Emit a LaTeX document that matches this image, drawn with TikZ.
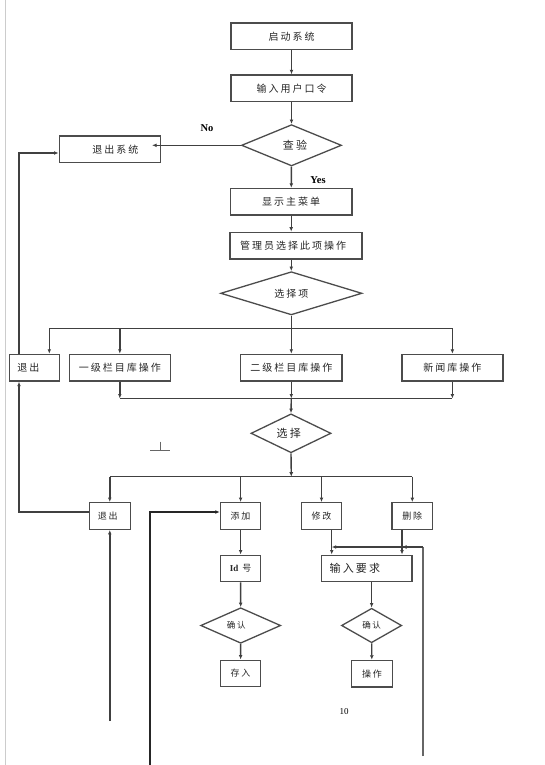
\documentclass[tikz,border=0pt]{standalone}
\usepackage{fontspec}
\setmainfont{Liberation Serif}
\newfontfamily\cjk{Noto Sans CJK SC}[LetterSpace=20]
\usetikzlibrary{shapes.geometric,arrows.meta,calc}
\tikzset{
  ln/.style={draw=black!75, line width=1.4pt},
  arr/.style={ln, -{Latex[length=4.5pt,width=3.8pt]}},
  box/.style={draw=black!70, line width=1.4pt, fill=white, inner sep=0pt, minimum height=26.5pt, font=\cjk\fontsize{10}{12}\selectfont, text=black!85},
  dia/.style={diamond, draw=black!70, line width=1.3pt, fill=white, inner sep=0pt, minimum height=34.5pt, font=\cjk\fontsize{10}{12}\selectfont, text=black!85},
  sm/.style={font=\cjk\fontsize{9}{11}\selectfont},
  lab/.style={font=\bfseries\fontsize{10.5}{12}\selectfont},
}
\begin{document}
\begin{tikzpicture}[x=1pt,y=-1pt]
\useasboundingbox (0,0) rectangle (544,765);
\fill[white] (0,0) rectangle (544,765);
\draw[black!20, line width=1pt] (5.5,0) -- (5.5,765);

% nodes
\node[box, minimum width=121pt] (qd) at (291.5,36.3) {启动系统};
\node[box, minimum width=121pt] (sr) at (291.5,88.3) {输入用户口令};
\node[dia, minimum width=100pt, font=\cjk\fontsize{11}{13}\selectfont] (cy) at (291.5,145.3) {\hspace*{7pt}查验};
\node[box, minimum width=101pt] (tx) at (109.8,149.3) {\hspace*{11pt}退出系统};
\node[box, minimum width=121.7pt] (xs) at (291.2,201.8) {显示主菜单};
\node[box, minimum width=132pt] (gl) at (296,245.6) {管理员选择此项操作\hspace*{6pt}};
\node[dia, minimum width=141.3pt] (xzx) at (291.3,293.3) {选择项};
\node[box, minimum width=50pt] (t1) at (34.3,367.7) {退出\hspace*{12pt}};
\node[box, minimum width=101pt] (yj) at (119.8,367.7) {一级栏目库操作};
\node[box, minimum width=101.4pt] (ej) at (291.3,367.7) {二级栏目库操作};
\node[box, minimum width=100.8pt] (xw) at (452.4,367.7) {新闻库操作};
\node[dia, minimum width=80pt, font=\cjk\fontsize{11}{13}\selectfont] (xz) at (291,433.3) {选择\hspace*{4.6pt}};
\node[box, sm, minimum width=41pt] (t2) at (109.8,516) {退出\hspace*{4pt}};
\node[box, sm, minimum width=40.3pt] (tj) at (240.6,516) {添加};
\node[box, sm, minimum width=40pt] (xg) at (321.5,516) {修改};
\node[box, sm, minimum width=40.6pt] (sc) at (412.3,516) {删除};
\node[box, sm, minimum width=40.3pt] (id) at (240.6,568.5) {{\rmfamily\bfseries Id} 号};
\node[dia, minimum width=80pt, font=\cjk\fontsize{8.5}{10}\selectfont] (q1) at (240.7,625.5) {确认\hspace*{9pt}};
\node[box, sm, minimum width=40.3pt] (cr) at (240.6,673.5) {存入};
\node[box, minimum width=90.3pt, font=\cjk\fontsize{11}{13}\selectfont] (yq) at (366.9,568.5) {输入要求\hspace*{24pt}};
\node[dia, minimum width=60.2pt, font=\cjk\fontsize{8.5}{10}\selectfont] (q2) at (371.6,625.5) {确认};
\node[box, sm, minimum width=40.8pt] (cz) at (371.9,673.7) {操作};

\node[lab] (no) at (207,128) {No};
\node[lab] (yes) at (318,180) {Yes};
\node[font=\fontsize{9}{11}\selectfont] (pg) at (344,711.7) {10};

% connectors top
\draw[arr] (qd) -- (sr);
\draw[arr] (sr) -- (cy);
\draw[arr] (cy.west) -- ($(tx.east |- cy.west)+(-9,0)$);
\draw[arr] (cy) -- (xs);
\draw[arr] (xs.south) -- (xs.south |- gl.north);
\draw[arr] (xzx.north |- gl.south) -- (xzx.north);

% first bus
\coordinate (b1) at (291.3,328.3);
\coordinate (bL) at (49.3,328.3);
\coordinate (bR) at (452.4,328.3);
\draw[ln] (xzx.south) -- (b1);
\draw[ln] (bL) -- (bR);
\draw[arr] (bL) -- (bL |- t1.north);
\draw[arr] (yj.north |- bL) -- (yj.north);
\draw[arr] (b1) -- (ej.north);
\draw[arr] (bR) -- (xw.north);

% second bus
\coordinate (c1) at (291.3,398.5);
\draw[ln] (yj.south |- c1) -- (xw.south |- c1);
\draw[arr] (yj.south) -- (yj.south |- c1);
\draw[arr] (ej.south) -- (c1);
\draw[arr] (xw.south) -- (xw.south |- c1);
\draw[arr] (c1) -- (xz.north);

% third bus
\coordinate (d1) at (291.3,476.7);
\draw[arr] (xz.south) -- (d1);
\draw[ln] (t2.north |- d1) -- (sc.north |- d1);
\draw[arr] (t2.north |- d1) -- (t2.north);
\draw[arr] (tj.north |- d1) -- (tj.north);
\draw[arr] (xg.north |- d1) -- (xg.north);
\draw[arr] (sc.north |- d1) -- (sc.north);

% add branch
\draw[arr] (tj) -- (id);
\draw[arr] (id) -- (q1);
\draw[arr] (q1) -- (cr);

% modify / delete branch
\coordinate (xgd) at ($(xg.south)+(10.2,0)$);
\coordinate (scd) at ($(sc.south)+(-10.3,0)$);
\draw[arr] (xgd) -- (xgd |- yq.north);
\draw[arr] (scd) -- (scd |- yq.north);
\draw[arr] (yq.south -| q2.north) -- (q2.north);
\draw[arr] (q2) -- (cz);

% right return line
\coordinate (rb) at (422.7,756);
\coordinate (rt) at (422.7,547);
\draw[ln, draw=black!60, line width=1.6pt] (rb) -- (rt);
\draw[arr, line width=1.7pt] (rt) -- (scd |- rt);
\draw[arr, line width=1.7pt] (rt) -- (xgd |- rt);

% left thick line into add
\coordinate (lb) at (150,765);
\draw[arr, draw=black!85, line width=2pt] (lb) |- ($(tj.west)+(0,-4)$);

% exit loops
\coordinate (t1b) at ($(t1.south)+(-15.3,0)$);
\coordinate (t1t) at ($(t1.north)+(-15.3,0)$);
\draw[arr] ($(t2.west)+(0,-4)$) -| (t1b);
\coordinate (t2b) at (109.8,721);
\draw[arr] (t2b) -- (t2.south);
\draw[arr] (t1t) |- ($(tx.west)+(0,3.7)$);

% stray mark
\draw[black!60, line width=1pt] (150,450.7) -- (170.3,450.7) (160,441.7) -- (160,450.7);
\end{tikzpicture}
\end{document}
